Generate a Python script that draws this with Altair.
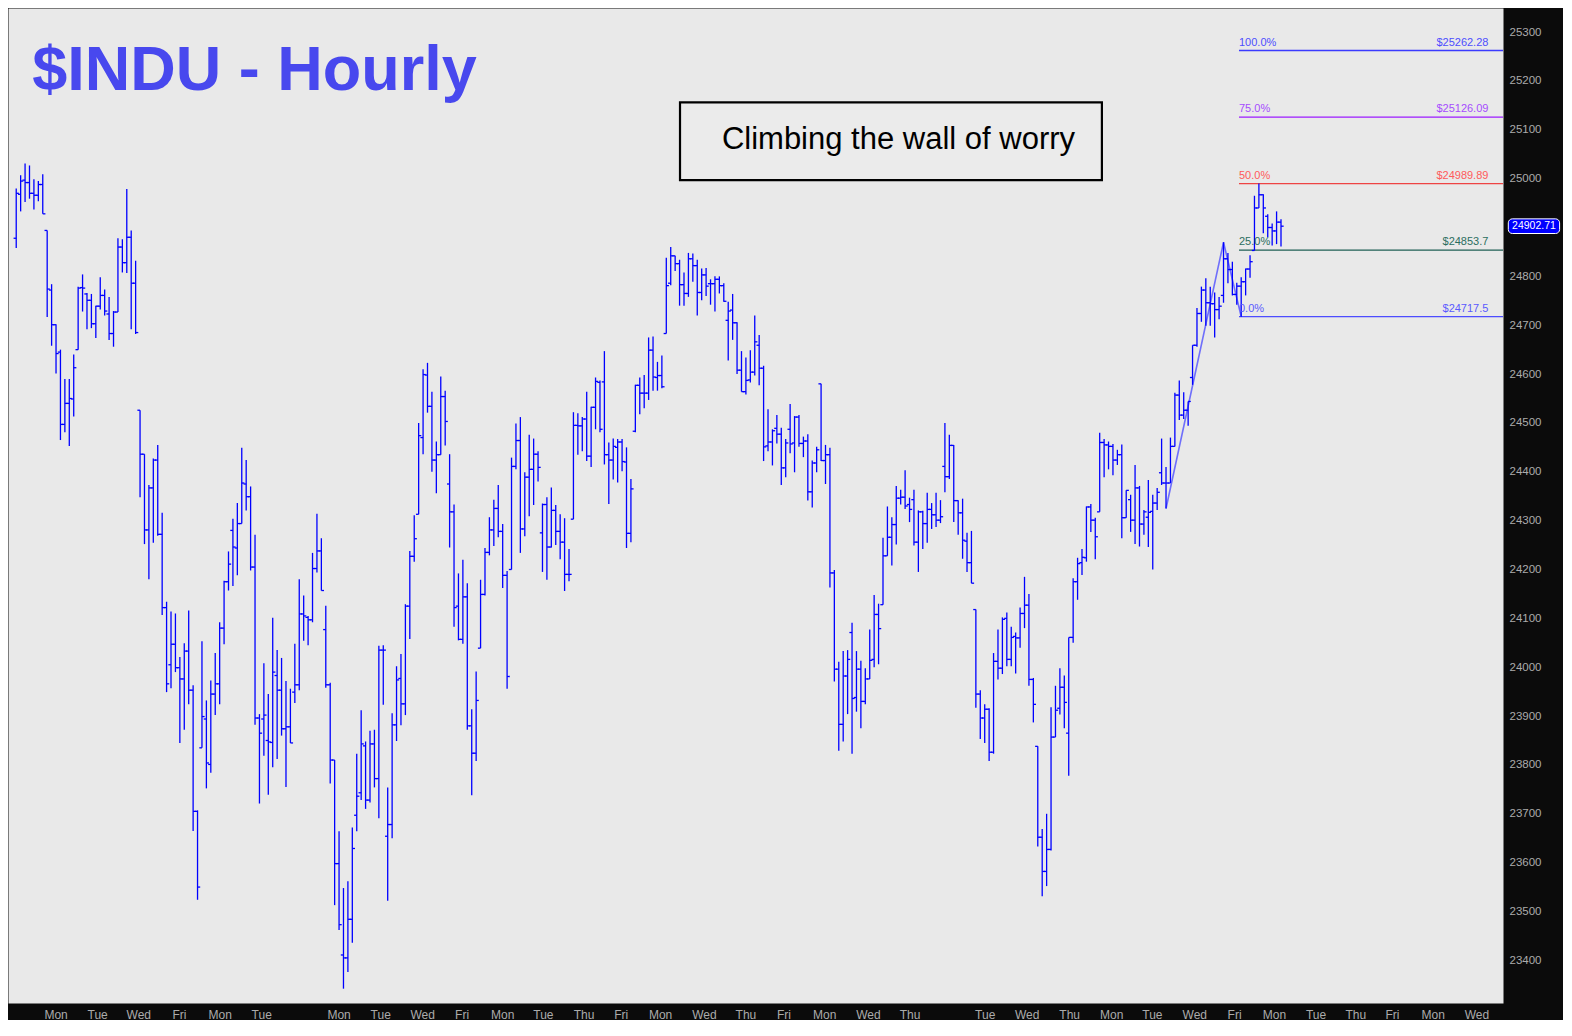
import altair as alt
import pandas as pd

# ---------------- data (hourly OHLC bars) ----------------
opens = [
    24878, 24968, 24997, 24992, 24970, 24966, 24988, 24894, 24772, 24701,
    24645, 24497, 24540, 24549, 24650, 24777, 24764, 24751, 24703, 24739,
    24761, 24723, 24683, 24727, 24860, 24828, 24880, 24786, 24526, 24436,
    24281, 24367, 24424, 24272, 24122, 24005, 24047, 23999, 23976, 24033,
    23953, 23705, 23835, 23894, 23801, 23945, 23966, 24080, 24175, 24280,
    24244, 24294, 24375, 24349, 24205, 23896, 23894, 23850, 23846, 23983,
    23953, 23874, 23878, 23949, 23964, 24109, 24102, 24097, 24202, 24238,
    24077, 23964, 23810, 23598, 23411, 23405, 23484, 23697, 23743, 23839,
    23728, 23843, 23772, 24035, 23654, 23678, 23882, 23977, 23925, 24125,
    24227, 24313, 24470, 24598, 24534, 24424, 24435, 24554, 24375, 24318,
    24125, 24057, 24144, 23880, 23824, 24039, 24149, 24235, 24281, 24325,
    24278, 24188, 24200, 24411, 24464, 24283, 24389, 24405, 24436, 24275,
    24333, 24246, 24321, 24278, 24256, 24190, 24303, 24495, 24494, 24508,
    24432, 24532, 24583, 24584, 24435, 24424, 24450, 24461, 24420, 24274,
    24483, 24577, 24561, 24561, 24649, 24593, 24597, 24683, 24786, 24842,
    24826, 24783, 24765, 24836, 24822, 24767, 24803, 24785, 24785, 24794,
    24781, 24710, 24731, 24705, 24608, 24564, 24588, 24604, 24659, 24612,
    24453, 24461, 24489, 24477, 24408, 24487, 24459, 24512, 24458, 24463,
    24359, 24418, 24580, 24423, 24435, 24193, 23996, 23883, 23982, 24071,
    23938, 23996, 23930, 23976, 24016, 24108, 24128, 24228, 24266, 24292,
    24346, 24348, 24333, 24343, 24256, 24318, 24294, 24323, 24312, 24301,
    24411, 24390, 24454, 24341, 24316, 24258, 24214, 24118, 23945, 23896,
    23914, 23826, 24012, 23998, 24100, 24016, 24063, 24060, 24110, 24127,
    23975, 23838, 23652, 23582, 23627, 23857, 23916, 23959, 23865, 24061,
    24175, 24214, 24224, 24328, 24301, 24318, 24460, 24455, 24452, 24424,
    24435, 24306, 24343, 24301, 24367, 24293, 24307, 24319, 24336, 24398,
    24377, 24377, 24452, 24557, 24516, 24526, 24593, 24659, 24724, 24772,
    24746, 24744, 24732, 24761, 24836, 24814, 24763, 24780, 24789, 24815,
    24853, 24940, 24967, 24923, 24900, 24893, 24911,
]
highs = [
    24980, 25007, 25031, 25027, 24999, 24995, 25009, 24894, 24784, 24702,
    24650, 24590, 24590, 24640, 24779, 24804, 24766, 24764, 24740, 24798,
    24773, 24758, 24729, 24878, 24876, 24979, 24894, 24832, 24526, 24436,
    24373, 24427, 24455, 24316, 24134, 24114, 24110, 24021, 24049, 24116,
    23963, 23707, 24053, 23932, 23973, 24029, 24092, 24177, 24237, 24304,
    24336, 24449, 24424, 24370, 24271, 23904, 24008, 23945, 24101, 24035,
    24019, 23972, 23956, 24048, 24180, 24147, 24105, 24234, 24314, 24264,
    24126, 23968, 23810, 23664, 23548, 23562, 23672, 23823, 23912, 23848,
    23870, 23872, 24044, 24045, 23754, 23906, 24002, 24027, 24129, 24238,
    24311, 24500, 24610, 24623, 24564, 24462, 24595, 24566, 24436, 24333,
    24192, 24220, 24172, 23914, 23991, 24179, 24244, 24307, 24343, 24373,
    24293, 24197, 24429, 24499, 24512, 24399, 24476, 24468, 24442, 24335,
    24348, 24368, 24332, 24313, 24305, 24242, 24522, 24520, 24512, 24564,
    24533, 24593, 24587, 24647, 24460, 24468, 24467, 24467, 24450, 24385,
    24578, 24593, 24598, 24675, 24677, 24625, 24638, 24838, 24860, 24842,
    24834, 24808, 24848, 24847, 24834, 24816, 24817, 24794, 24800, 24800,
    24786, 24748, 24764, 24706, 24647, 24634, 24649, 24720, 24680, 24617,
    24528, 24487, 24516, 24490, 24467, 24539, 24514, 24516, 24472, 24477,
    24423, 24451, 24580, 24455, 24449, 24199, 24011, 24033, 24035, 24091,
    24033, 24013, 23998, 24077, 24148, 24130, 24265, 24329, 24307, 24371,
    24363, 24403, 24347, 24363, 24321, 24320, 24357, 24336, 24357, 24342,
    24500, 24476, 24455, 24342, 24345, 24275, 24279, 24118, 23953, 23924,
    23916, 24029, 24077, 24102, 24112, 24083, 24071, 24122, 24185, 24150,
    23978, 23838, 23669, 23700, 23918, 23962, 23998, 23983, 24061, 24182,
    24224, 24242, 24329, 24334, 24306, 24480, 24467, 24462, 24457, 24445,
    24456, 24362, 24353, 24414, 24371, 24322, 24383, 24353, 24367, 24468,
    24410, 24470, 24562, 24587, 24563, 24544, 24659, 24735, 24779, 24796,
    24779, 24767, 24758, 24870, 24848, 24830, 24787, 24798, 24816, 24843,
    24965, 24989.9, 24968, 24927, 24908, 24933, 24917,
]
lows = [
    24858, 24933, 24952, 24959, 24937, 24954, 24928, 24717, 24658, 24601,
    24465, 24481, 24453, 24513, 24650, 24728, 24692, 24694, 24674, 24732,
    24720, 24670, 24656, 24727, 24808, 24807, 24692, 24682, 24348, 24252,
    24180, 24255, 24269, 24107, 23949, 23957, 23990, 23845, 23872, 23924,
    23665, 23524, 23835, 23752, 23784, 23902, 23924, 24047, 24157, 24166,
    24188, 24294, 24321, 24198, 23882, 23721, 23819, 23739, 23795, 23812,
    23860, 23755, 23845, 23927, 23953, 24054, 24045, 24092, 24194, 24157,
    23958, 23762, 23513, 23462, 23342, 23376, 23436, 23664, 23728, 23710,
    23723, 23754, 23691, 23923, 23522, 23650, 23849, 23881, 23902, 24058,
    24216, 24313, 24436, 24521, 24400, 24356, 24435, 24454, 24245, 24083,
    24055, 24048, 23872, 23738, 23808, 24039, 24147, 24229, 24248, 24266,
    24162, 23956, 24200, 24405, 24234, 24268, 24309, 24332, 24380, 24195,
    24179, 24245, 24250, 24221, 24156, 24176, 24303, 24435, 24442, 24422,
    24410, 24487, 24481, 24415, 24334, 24384, 24378, 24401, 24244, 24256,
    24481, 24518, 24530, 24547, 24566, 24566, 24571, 24683, 24782, 24811,
    24740, 24740, 24758, 24789, 24720, 24751, 24760, 24742, 24728, 24765,
    24748, 24628, 24670, 24600, 24564, 24558, 24583, 24597, 24577, 24422,
    24442, 24413, 24458, 24373, 24389, 24438, 24399, 24451, 24430, 24341,
    24327, 24399, 24422, 24375, 24163, 23971, 23829, 23848, 23904, 23823,
    23909, 23875, 23924, 23976, 24000, 24006, 24128, 24228, 24208, 24251,
    24333, 24324, 24297, 24249, 24195, 24242, 24255, 24283, 24287, 24295,
    24358, 24385, 24297, 24271, 24222, 24195, 24172, 23917, 23853, 23845,
    23808, 23823, 23975, 23986, 24002, 24002, 23987, 24040, 24080, 23962,
    23887, 23633, 23531, 23552, 23625, 23857, 23903, 23875, 23778, 24050,
    24138, 24189, 24216, 24277, 24221, 24318, 24389, 24405, 24393, 24414,
    24264, 24306, 24277, 24252, 24247, 24271, 24246, 24200, 24322, 24373,
    24325, 24377, 24452, 24506, 24508, 24494, 24578, 24656, 24707, 24699,
    24699, 24675, 24712, 24746, 24786, 24761, 24742, 24717.5, 24761, 24797,
    24853, 24940, 24888, 24880, 24863, 24866, 24861,
]
closes = [
    24970, 24995, 24992, 24970, 24966, 24988, 24928, 24774, 24701, 24642,
    24497, 24540, 24550, 24613, 24776, 24776, 24751, 24703, 24739, 24761,
    24729, 24683, 24727, 24860, 24828, 24880, 24786, 24685, 24436, 24281,
    24367, 24424, 24272, 24122, 23966, 24047, 23999, 23976, 24033, 23953,
    23705, 23550, 23899, 23804, 23945, 23966, 24080, 24175, 24211, 24246,
    24294, 24377, 24349, 24205, 23896, 23865, 23902, 23847, 23990, 23953,
    23874, 23878, 23845, 23964, 24109, 24105, 24097, 24202, 24238, 24157,
    23964, 23810, 23598, 23473, 23405, 23484, 23629, 23736, 23843, 23728,
    23843, 23772, 24035, 24035, 23678, 23882, 23974, 23925, 24125, 24227,
    24263, 24474, 24599, 24534, 24424, 24435, 24554, 24503, 24318, 24122,
    24057, 24144, 23880, 23824, 23932, 24149, 24235, 24281, 24325, 24278,
    24188, 23981, 24411, 24464, 24283, 24389, 24405, 24436, 24409, 24333,
    24246, 24321, 24278, 24256, 24190, 24190, 24495, 24494, 24508, 24432,
    24532, 24585, 24487, 24435, 24424, 24452, 24461, 24421, 24274, 24365,
    24577, 24561, 24561, 24649, 24594, 24597, 24574, 24781, 24842, 24826,
    24783, 24765, 24836, 24822, 24767, 24803, 24780, 24785, 24794, 24781,
    24749, 24729, 24705, 24608, 24564, 24587, 24604, 24666, 24612, 24451,
    24461, 24484, 24477, 24408, 24459, 24457, 24512, 24458, 24463, 24359,
    24418, 24445, 24423, 24435, 24193, 23996, 23883, 23982, 24016, 23936,
    23996, 23930, 23976, 24014, 24108, 24079, 24228, 24266, 24292, 24346,
    24348, 24330, 24323, 24256, 24318, 24294, 24323, 24312, 24301, 24308,
    24390, 24454, 24341, 24316, 24260, 24214, 24172, 23945, 23896, 23914,
    23826, 24012, 23998, 24098, 24016, 24061, 24060, 24110, 24127, 23975,
    23924, 23652, 23582, 23627, 23857, 23912, 23959, 23928, 24061, 24175,
    24212, 24225, 24328, 24301, 24267, 24460, 24455, 24452, 24424, 24435,
    24306, 24362, 24301, 24367, 24293, 24318, 24317, 24336, 24358, 24377,
    24377, 24452, 24557, 24516, 24526, 24544, 24659, 24724, 24772, 24746,
    24744, 24732, 24739, 24836, 24814, 24763, 24780, 24789, 24815, 24830,
    24940, 24967, 24940, 24900, 24893, 24911, 24902.71,
]

# day labels of the time axis (bar-index position of each label)
day_names = ["Mon", "Tue", "Wed", "Fri", "Mon", "Tue", "Mon", "Tue", "Wed", "Fri",
             "Mon", "Tue", "Thu", "Fri", "Mon", "Wed", "Thu", "Fri", "Mon", "Wed",
             "Thu", "Tue", "Wed", "Thu", "Mon", "Tue", "Wed", "Fri", "Mon", "Tue",
             "Thu", "Fri", "Mon", "Wed"]
day_pos = [9.9, 19.3, 28.6, 37.8, 47.0, 56.4, 73.9, 83.3, 92.8, 101.7,
           110.9, 120.1, 129.3, 137.7, 146.6, 156.5, 165.9, 174.5, 183.7, 193.6,
           203.0, 220.0, 229.5, 239.1, 248.6, 257.8, 267.4, 276.4, 285.4, 294.8,
           303.8, 312.1, 321.3, 331.2]

price_ticks = list(range(23400, 25301, 100))

# Fibonacci projection levels
fib_pct = ["0.0%", "25.0%", "50.0%", "75.0%", "100.0%"]
fib_price = [24717.5, 24853.7, 24989.89, 25126.09, 25262.28]
fib_text = ["$24717.5", "$24853.7", "$24989.89", "$25126.09", "$25262.28"]
fib_line_col = ["#4d4dff", "#1f5f55", "#ee4444", "#9b1bff", "#3b3bff"]
fib_text_col = ["#5a5aff", "#2b6e60", "#ff5a5a", "#a64cff", "#4d4dff"]

# swing used for the projection (bar index, price)
swing_i = [261, 274, 278]
swing_p = [24324.94, 24869.72, 24717.5]

last_price = 24902.71

# ---------------- chart ----------------
W, H = 1495, 995
X_DOM = [-0.86, 337.2]
Y_DOM = [23312.7, 25349.3]
xs = alt.Scale(domain=X_DOM, nice=False, zero=False)
ys = alt.Scale(domain=Y_DOM, nice=False, zero=False)
BLUE = "#0000ff"
AXIS_GREY = "#ababab"

bars = pd.DataFrame({"i": list(range(1, len(opens) + 1)), "o": opens,
                     "h": highs, "l": lows, "c": closes})

names_js = "[" + ",".join("'%s'" % n for n in day_names) + "]"
pos_js = "[" + ",".join(repr(p) for p in day_pos) + "]"
label_expr = names_js + "[indexof(" + pos_js + ", datum.value)]"

x_axis = alt.Axis(values=day_pos, labelExpr=label_expr, ticks=False, domain=False,
                  grid=False, labelColor=AXIS_GREY, labelFontSize=12,
                  labelFont="Liberation Sans", labelPadding=6, labelOverlap=False,
                  labelFlush=False, labelBound=False, title=None)
y_axis = alt.Axis(orient="right", values=price_ticks, format="d", ticks=False,
                  domain=False, grid=False, labelColor=AXIS_GREY, labelFontSize=11.5,
                  labelFont="Liberation Sans", labelPadding=6, labelOverlap=False,
                  labelFlush=False, labelBound=False, title=None)


def X(field):
    return alt.X(field, scale=xs, axis=x_axis, title=None)


def Y(field):
    return alt.Y(field, scale=ys, axis=y_axis, title=None)


SW = 1.3
base = alt.Chart(bars)
hl = base.mark_rule(color=BLUE, strokeWidth=SW).encode(
    x=X("i:Q"), y=Y("l:Q"), y2="h:Q")
op = base.transform_calculate(xa="datum.i - 0.6").mark_rule(
    color=BLUE, strokeWidth=SW).encode(x=X("xa:Q"), x2="i:Q", y=Y("o:Q"))
cl = base.transform_calculate(xb="datum.i + 0.6").mark_rule(
    color=BLUE, strokeWidth=SW).encode(x=X("i:Q"), x2="xb:Q", y=Y("c:Q"))

fib = pd.DataFrame({"pct": fib_pct, "price": fib_price, "txt": fib_text,
                    "lc": fib_line_col, "tc": fib_text_col,
                    "x0": [277.5] * 5, "x1": [X_DOM[1]] * 5, "xr": [333.9] * 5})
fbase = alt.Chart(fib)
fib_lines = fbase.mark_rule(strokeWidth=1.3).encode(
    x=X("x0:Q"), x2="x1:Q", y=Y("price:Q"),
    color=alt.Color("lc:N", scale=None, legend=None))
fib_pct_txt = fbase.mark_text(align="left", baseline="bottom", dy=-3, fontSize=11,
                              font="Liberation Sans").encode(
    x=X("x0:Q"), y=Y("price:Q"), text="pct:N",
    color=alt.Color("tc:N", scale=None, legend=None))
fib_val_txt = fbase.mark_text(align="right", baseline="bottom", dy=-3, fontSize=11,
                              font="Liberation Sans").encode(
    x=X("xr:Q"), y=Y("price:Q"), text="txt:N",
    color=alt.Color("tc:N", scale=None, legend=None))

swing = alt.Chart(pd.DataFrame({"i": swing_i, "p": swing_p, "k": [0, 1, 2]})).mark_line(
    color="#5050ff", strokeWidth=1.6, opacity=0.8).encode(
    x=X("i:Q"), y=Y("p:Q"), order="k:Q")

title = alt.Chart(pd.DataFrame({"x": [4.6], "y": [25182], "t": ["$INDU - Hourly"]})).mark_text(
    align="left", baseline="alphabetic", fontSize=63, fontWeight="bold",
    font="Liberation Sans", color="#4848ee").encode(
    x=X("x:Q"), y=Y("y:Q"), text="t:N")

box = alt.Chart(pd.DataFrame({"x": [151.1], "x2": [246.5], "y": [24997], "y2": [25156]})).mark_rect(
    fill="#ebebeb", stroke="#000000", strokeWidth=2.2).encode(
    x=X("x:Q"), x2="x2:Q", y=Y("y:Q"), y2="y2:Q")
box_txt = alt.Chart(pd.DataFrame({"x": [200.5], "y": [25079],
                                  "t": ["Climbing the wall of worry"]})).mark_text(
    align="center", baseline="middle", fontSize=31, font="Liberation Sans",
    color="#000000").encode(x=X("x:Q"), y=Y("y:Q"), text="t:N")

tag = alt.Chart(pd.DataFrame({"x": [338.4], "x2": [350.0], "y": [last_price - 15],
                              "y2": [last_price + 15]})).mark_rect(
    fill="#0000ff", stroke="#ffffff", strokeWidth=1, cornerRadius=4).encode(
    x=X("x:Q"), x2="x2:Q", y=Y("y:Q"), y2="y2:Q")
tag_txt = alt.Chart(pd.DataFrame({"x": [344.2], "y": [last_price],
                                  "t": ["%.2f" % last_price]})).mark_text(
    align="center", baseline="middle", fontSize=10.5, font="Liberation Sans",
    color="#ffffff").encode(x=X("x:Q"), y=Y("y:Q"), text="t:N")

chart = alt.layer(
    fib_lines, swing, hl, op, cl, fib_pct_txt, fib_val_txt,
    title, box, box_txt, tag, tag_txt,
).properties(
    width=W, height=H,
    padding={"left": 0, "top": 0, "right": 2, "bottom": 0},
).configure(background="#0b0b0b").configure_view(fill="#e9e9e9", stroke="transparent")

chart.save("out.html", embed_options={"renderer": "svg", "actions": False})
